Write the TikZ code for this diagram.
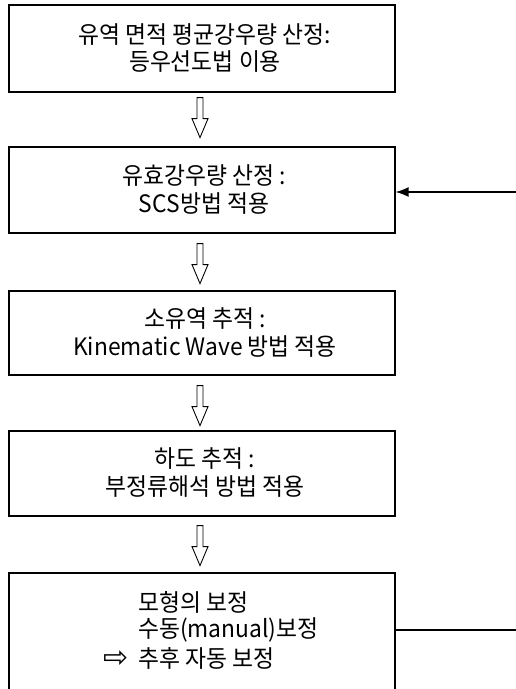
\documentclass[tikz,border=0pt]{standalone}
\usepackage{fontspec}
\setmainfont[FakeStretch=0.95]{Noto Sans CJK KR}
\newfontfamily\symfont{DejaVu Sans}
\usetikzlibrary{arrows.meta,calc}
\begin{document}
\begin{tikzpicture}[x=1pt,y=-1pt,
  stepbox/.style={draw, line width=1.2pt, fill=white, minimum width=386pt, inner sep=0pt},
  txt/.style={inner sep=0pt, font=\fontsize{24}{28}\selectfont},
  hollow/.style={draw, line width=0.9pt, fill=white, line join=miter},
  conn/.style={line width=1.3pt}]
\useasboundingbox (0,0) rectangle (516,689);
\clip (0,0) rectangle (516,689);
\fill[white] (0,0) rectangle (516,689);
% boxes
\node[stepbox, minimum height=87pt] (b1) at (202,48.5) {};
\node[stepbox, minimum height=86pt] (b2) at (202,190) {};
\node[stepbox, minimum height=84pt] (b3) at (202,333) {};
\node[stepbox, minimum height=85pt] (b4) at (202,473.5) {};
\node[stepbox, minimum height=130pt] (b5) at (202,638) {};
% texts
\node[txt] (t1a) at (205,35) {유역 면적 평균강우량 산정:};
\node[txt] (t1b) at (205,62) {등우선도법 이용};
\node[txt] (t2a) at (204,176) {유효강우량 산정 :};
\node[txt] (t2b) at (204,204) {SCS방법 적용};
\node[txt] (t3a) at (205,319) {소유역 추적 :};
\node[txt] (t3b) at (205,347) {Kinematic Wave 방법 적용};
\node[txt] (t4a) at (205,459) {하도 추적 :};
\node[txt] (t4b) at (205,487) {부정류해석 방법 적용};
\node[txt, anchor=west] (t5a) at (138,602) {모형의 보정};
\node[txt, anchor=west] (t5b) at (138,630) {수동(manual)보정};
\node[txt, anchor=west] (t5c) at (138,658) {추후 자동 보정};
\node[inner sep=0pt, font=\symfont\fontsize{30}{30}\selectfont] (t5arr) at (116,659) {⇨};
% hollow arrows
\foreach \a/\g in {b1/5,b2/10,b3/10,b4/9}{
  \draw[hollow] ($(\a.south)+(-5,\g)$) -- ++(0,21) -- ++(-5,0) -- ++(8,19) -- ++(8,-19) -- ++(-5,0) -- ++(0,-21) -- cycle;
}
% feedback
\coordinate (fbin) at (516,192);
\draw[conn, -{Latex[length=13pt,width=10pt]}] (fbin) -- (fbin -| b2.east);
\coordinate (fbout) at (516,630);
\draw[conn] (fbout -| b5.east) -- (fbout);
\end{tikzpicture}
\end{document}
